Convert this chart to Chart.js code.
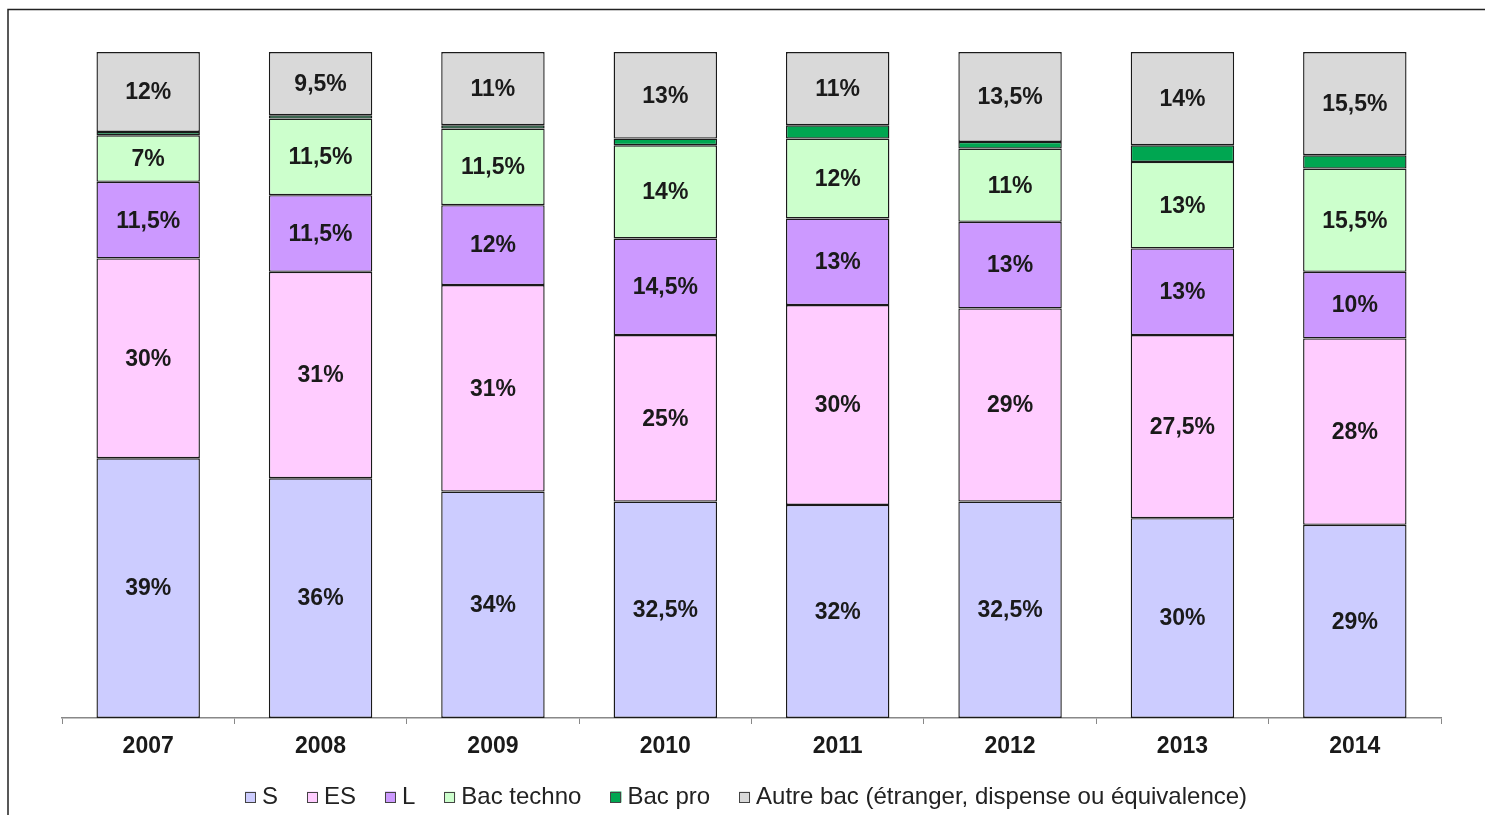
<!DOCTYPE html>
<html>
<head>
<meta charset="utf-8">
<script src="https://cdn.jsdelivr.net/npm/chart.js@4.4.0/dist/chart.umd.min.js"></script>
<style>
  html, body { margin: 0; padding: 0; background: #ffffff; }
  #wrap { width: 1485px; height: 815px; position: relative; }
</style>
</head>
<body>
<div id="wrap"><canvas id="c" width="1485" height="815"></canvas></div>
<script>
const years = ["2007", "2008", "2009", "2010", "2011", "2012", "2013", "2014"];
const seriesS        = [39, 36, 34, 32.5, 32, 32.5, 30, 29];
const seriesES       = [30, 31, 31, 25, 30, 29, 27.5, 28];
const seriesL        = [11.5, 11.5, 12, 14.5, 13, 13, 13, 10];
const seriesTechno   = [7, 11.5, 11.5, 14, 12, 11, 13, 15.5];
const seriesPro      = [0.5, 0.5, 0.5, 1, 2, 1, 2.5, 2];
const seriesAutre    = [12, 9.5, 11, 13, 11, 13.5, 14, 15.5];
const seriesNames    = ["S", "ES", "L", "Bac techno", "Bac pro", "Autre bac (étranger, dispense ou équivalence)"];
const seriesColors   = ["#ccccff", "#ffccff", "#cc99ff", "#ccffcc", "#00a651", "#d9d9d9"];
const showLabels     = [true, true, true, true, false, true];

const FONT = "'Liberation Sans', Arial, sans-serif";

function fmt(v) { return String(v).replace('.', ',') + '%'; }

const allSeries = [seriesS, seriesES, seriesL, seriesTechno, seriesPro, seriesAutre];

const frame = {
  id: 'frame',
  afterDraw(chart) {
    const ctx = chart.ctx;
    ctx.save();
    ctx.strokeStyle = '#222';
    ctx.lineWidth = 1.5;
    ctx.beginPath();
    ctx.moveTo(8, 820);
    ctx.lineTo(8, 9.5);
    ctx.lineTo(1490, 9.5);
    ctx.stroke();
    ctx.restore();
  }
};

const barLabels = {
  id: 'barLabels',
  afterDatasetsDraw(chart) {
    const ctx = chart.ctx;
    ctx.save();
    ctx.font = "bold 23px " + FONT;
    ctx.fillStyle = '#1a1a1a';
    ctx.textAlign = 'center';
    ctx.textBaseline = 'middle';
    chart.data.datasets.forEach((ds, di) => {
      if (!showLabels[di]) return;
      const meta = chart.getDatasetMeta(di);
      meta.data.forEach((el, i) => {
        const yc = (el.y + el.base) / 2;
        ctx.fillText(fmt(ds.data[i]), el.x, yc + 1);
      });
    });
    ctx.restore();
  }
};

const bottomLegend = {
  id: 'bottomLegend',
  afterDraw(chart) {
    const ctx = chart.ctx;
    const ds = chart.data.datasets;
    ctx.save();
    ctx.font = "24px " + FONT;
    ctx.textBaseline = 'middle';
    ctx.textAlign = 'left';
    const box = 11, gapBox = 6, gapItem = 29;
    const widths = ds.map(d => ctx.measureText(d.label).width);
    let total = 0;
    widths.forEach((w, i) => { total += box + gapBox + w + (i < widths.length - 1 ? gapItem : 0); });
    let x = 746 - total / 2;
    const yc = 797;
    ds.forEach((d, i) => {
      ctx.fillStyle = d.backgroundColor;
      ctx.fillRect(x, yc - 5.5, box, box);
      ctx.strokeStyle = '#444';
      ctx.lineWidth = 1;
      ctx.strokeRect(Math.round(x) + 0.5, Math.round(yc - 5.5) + 0.5, box - 1, box - 1);
      ctx.fillStyle = '#222';
      ctx.fillText(d.label, x + box + gapBox, yc);
      x += box + gapBox + widths[i] + gapItem;
    });
    ctx.restore();
  }
};

new Chart(document.getElementById('c'), {
  type: 'bar',
  data: {
    labels: years,
    datasets: allSeries.map((arr, i) => ({
      label: seriesNames[i],
      data: arr,
      backgroundColor: seriesColors[i],
      borderColor: '#1a1a1a',
      borderWidth: 1.4,
      borderSkipped: false,
      categoryPercentage: 1.0,
      barPercentage: 0.6
    }))
  },
  options: {
    responsive: false,
    animation: false,
    devicePixelRatio: 1,
    layout: { padding: { left: 62, right: 44, top: 52, bottom: 59 } },
    scales: {
      x: {
        stacked: true,
        grid: { display: true, drawOnChartArea: false, drawTicks: true, tickLength: 6, color: '#888', offset: true },
        border: { display: true, color: '#888', width: 1.5 },
        ticks: { color: '#1a1a1a', font: { family: FONT, size: 23, weight: 'bold' }, padding: 9 },
        afterFit(scale) { scale.height = 38; }
      },
      y: {
        stacked: true,
        display: false,
        min: 0,
        max: 100
      }
    },
    plugins: {
      legend: { display: false },
      tooltip: { enabled: false }
    }
  },
  plugins: [frame, barLabels, bottomLegend]
});
</script>
</body>
</html>
